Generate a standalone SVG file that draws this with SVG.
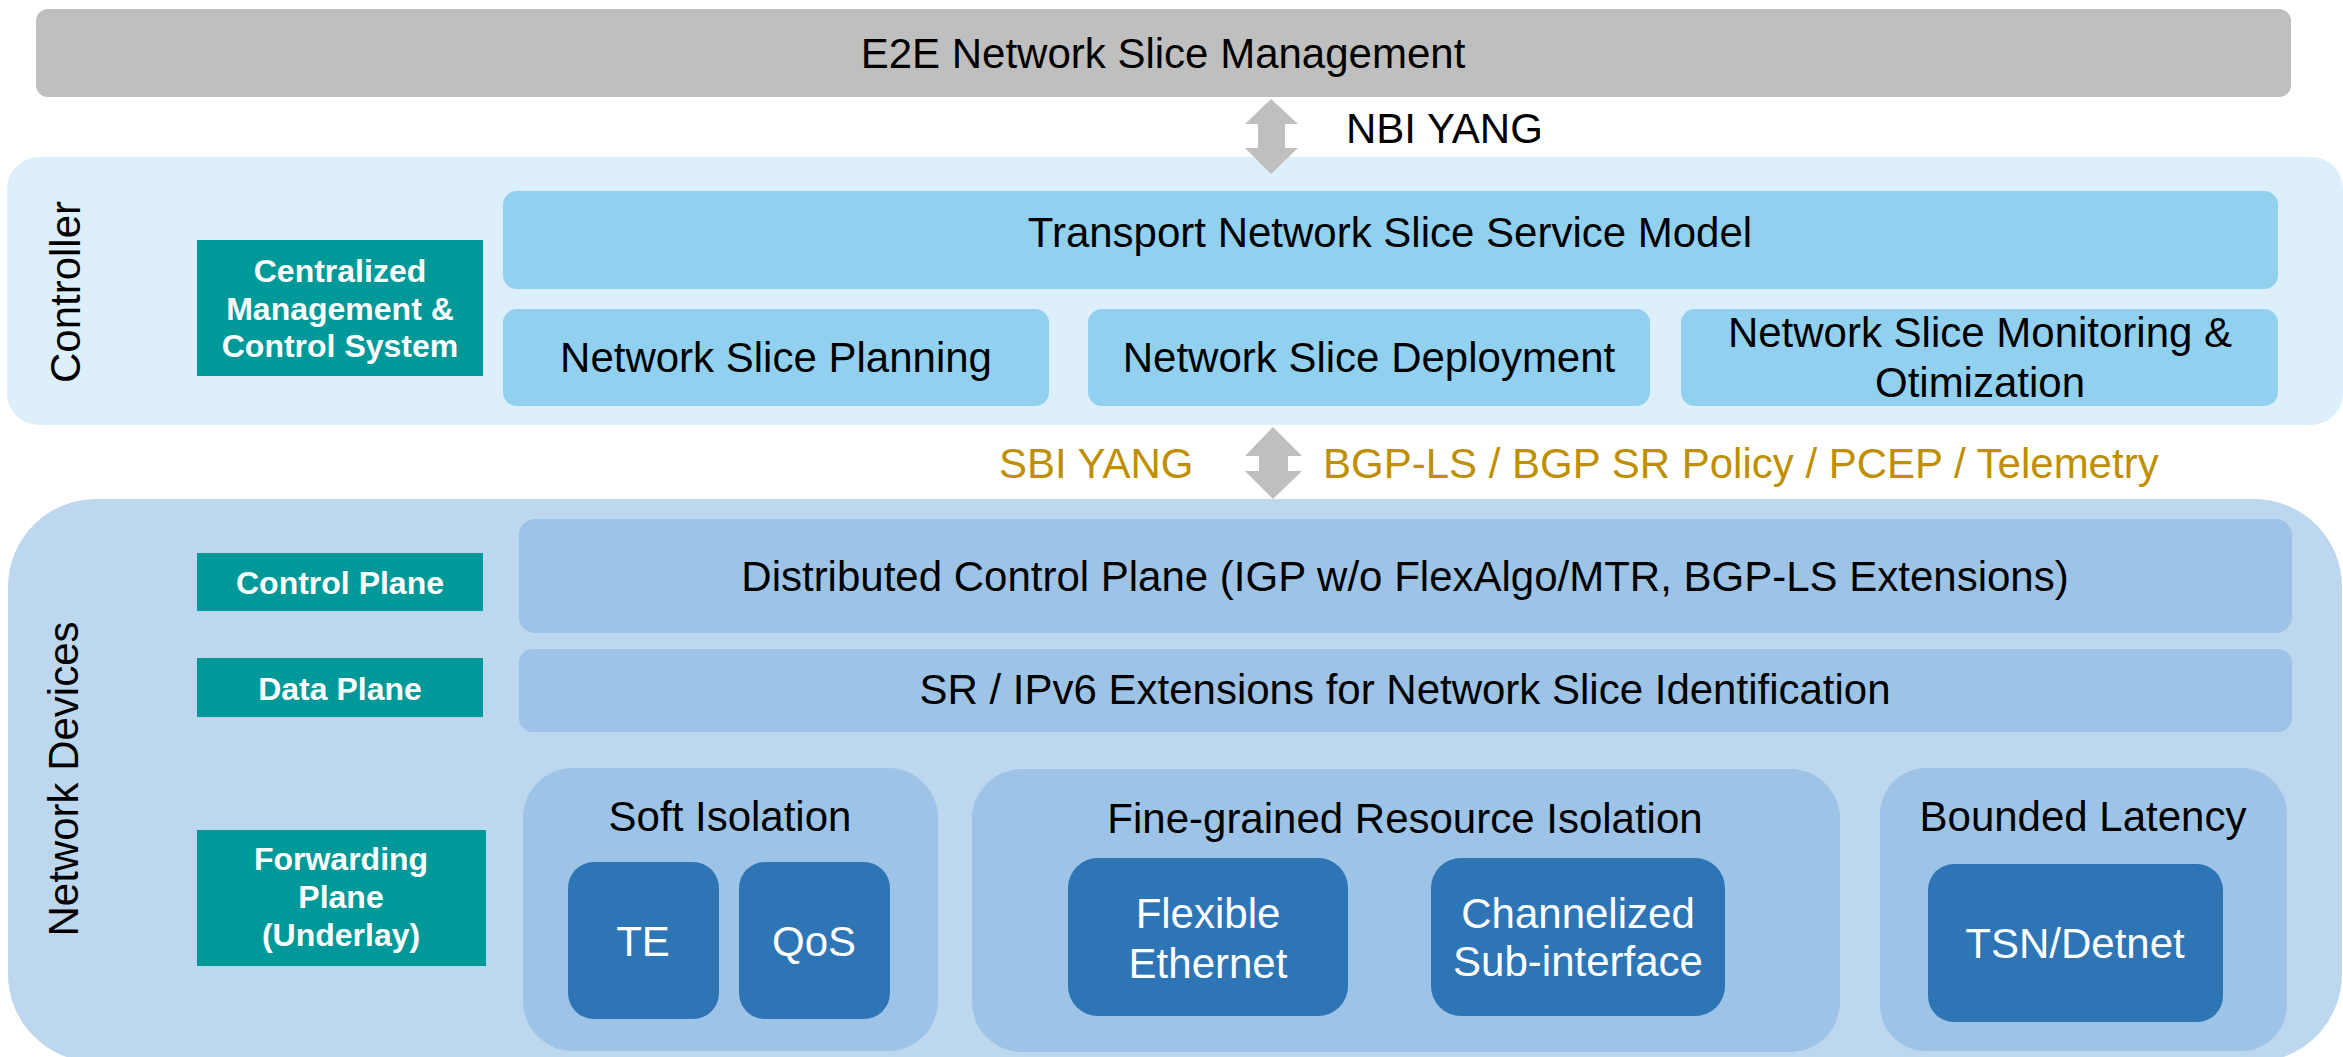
<svg xmlns="http://www.w3.org/2000/svg" width="2343" height="1057" viewBox="0 0 2343 1057">
  <style>
    text { font-family: "Liberation Sans", Arial, sans-serif; }
    .t { font-size: 42px; fill: #000; text-anchor: middle; }
    .w { font-size: 42px; fill: #fff; text-anchor: middle; }
    .lbl { font-size: 32px; font-weight: bold; fill: #fff; text-anchor: middle; }
    .proto { font-size: 42px; fill: #BF8F00; }
    .teal { fill: #009999; }
    .ctl { fill: #92D0F0; }
    .dev { fill: #9DC3E6; }
    .dark { fill: #2E75B6; }
    .arrow { fill: #BFBFBF; }
  </style>

  <!-- top management layer -->
  <g id="e2e-mgmt">
    <rect x="36" y="9" width="2255" height="88" rx="12" fill="#BFBFBF"/>
    <text class="t" x="1163" y="68">E2E Network Slice Management</text>
  </g>

  <!-- controller layer -->
  <g id="controller">
    <rect x="7" y="157" width="2336" height="268" rx="32" fill="#DDEFFA"/>
    <text class="t" transform="translate(80,292) rotate(-90)">Controller</text>
  </g>
  <g id="centralized-mgmt">
    <rect class="teal" x="197" y="240" width="286" height="136"/>
    <text class="lbl" x="340" y="282">Centralized</text>
    <text class="lbl" x="340" y="320">Management &amp;</text>
    <text class="lbl" x="340" y="357">Control System</text>
  </g>
  <g id="service-model">
    <rect class="ctl" x="503" y="191" width="1775" height="98" rx="14"/>
    <text class="t" x="1390" y="247">Transport Network Slice Service Model</text>
  </g>
  <g id="slice-planning">
    <rect class="ctl" x="503" y="309" width="546" height="97" rx="14"/>
    <text class="t" x="776" y="372">Network Slice Planning</text>
  </g>
  <g id="slice-deployment">
    <rect class="ctl" x="1088" y="309" width="562" height="97" rx="14"/>
    <text class="t" x="1369" y="372">Network Slice Deployment</text>
  </g>
  <g id="slice-monitoring">
    <rect class="ctl" x="1681" y="309" width="597" height="97" rx="14"/>
    <text class="t" x="1980" y="347">Network Slice Monitoring &amp;</text>
    <text class="t" x="1980" y="397">Otimization</text>
  </g>

  <!-- network devices layer -->
  <g id="network-devices">
    <rect x="8" y="499" width="2334" height="563" rx="88" fill="#BDD7EE"/>
    <text class="t" transform="translate(78,779) rotate(-90)">Network Devices</text>
  </g>
  <g id="control-plane-label">
    <rect class="teal" x="197" y="553" width="286" height="58"/>
    <text class="lbl" x="340" y="594">Control Plane</text>
  </g>
  <g id="data-plane-label">
    <rect class="teal" x="197" y="658" width="286" height="59"/>
    <text class="lbl" x="340" y="700">Data Plane</text>
  </g>
  <g id="forwarding-plane-label">
    <rect class="teal" x="197" y="830" width="289" height="136"/>
    <text class="lbl" x="341" y="870">Forwarding</text>
    <text class="lbl" x="341" y="908">Plane</text>
    <text class="lbl" x="341" y="946">(Underlay)</text>
  </g>
  <g id="distributed-control-plane">
    <rect class="dev" x="519" y="519" width="1773" height="114" rx="16"/>
    <text class="t" x="1405" y="591">Distributed Control Plane (IGP w/o FlexAlgo/MTR, BGP-LS Extensions)</text>
  </g>
  <g id="data-plane-ext">
    <rect class="dev" x="519" y="649" width="1773" height="83" rx="14"/>
    <text class="t" x="1405" y="704">SR / IPv6 Extensions for Network Slice Identification</text>
  </g>

  <g id="soft-isolation">
    <rect class="dev" x="523" y="768" width="415" height="283" rx="50"/>
    <text class="t" x="730" y="831">Soft Isolation</text>
  </g>
  <g id="te">
    <rect class="dark" x="568" y="862" width="151" height="157" rx="26"/>
    <text class="w" x="643" y="956">TE</text>
  </g>
  <g id="qos">
    <rect class="dark" x="739" y="862" width="151" height="157" rx="26"/>
    <text class="w" x="814" y="956">QoS</text>
  </g>

  <g id="fine-grained-isolation">
    <rect class="dev" x="972" y="769" width="868" height="283" rx="50"/>
    <text class="t" x="1405" y="833">Fine-grained Resource Isolation</text>
  </g>
  <g id="flexe">
    <rect class="dark" x="1068" y="858" width="280" height="158" rx="30"/>
    <text class="w" x="1208" y="928">Flexible</text>
    <text class="w" x="1208" y="978">Ethernet</text>
  </g>
  <g id="channelized-subif">
    <rect class="dark" x="1431" y="858" width="294" height="158" rx="30"/>
    <text class="w" x="1578" y="928">Channelized</text>
    <text class="w" x="1578" y="976">Sub-interface</text>
  </g>

  <g id="bounded-latency">
    <rect class="dev" x="1880" y="768" width="407" height="283" rx="46"/>
    <text class="t" x="2083" y="831">Bounded Latency</text>
  </g>
  <g id="tsn-detnet">
    <rect class="dark" x="1928" y="864" width="295" height="158" rx="26"/>
    <text class="w" x="2075" y="958">TSN/Detnet</text>
  </g>

  <!-- interfaces between layers -->
  <g id="connectors">
    <polygon class="arrow" points="1271,99 1298,124 1285,124 1285,148 1298,148 1271,174 1245,148 1258,148 1258,124 1245,124"/>
    <text x="1346" y="143" style="font-size:42px;fill:#000">NBI YANG</text>
    <polygon class="arrow" points="1273,427 1302,456 1288,456 1288,471 1302,471 1273,499 1245,471 1259,471 1259,456 1245,456"/>
    <text class="proto" x="999" y="478">SBI YANG</text>
    <text class="proto" x="1323" y="478">BGP-LS / BGP SR Policy / PCEP / Telemetry</text>
  </g>
</svg>
